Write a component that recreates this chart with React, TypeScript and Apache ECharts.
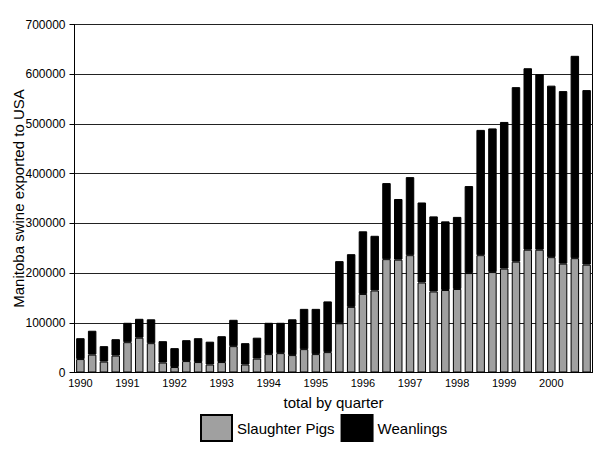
import React, { useEffect, useRef } from "react";
import * as echarts from "echarts";

const years = ["1990", "1991", "1992", "1993", "1994", "1995", "1996", "1997", "1998", "1999", "2000"];
const quarters = ["Q1", "Q2", "Q3", "Q4"];
const categories: string[] = [];
years.forEach((y) => quarters.forEach((q) => categories.push(y + " " + q)));

const slaughterPigs = [
  27000, 36000, 22000, 34000, 61000, 70000, 59000, 20000,
  11000, 23000, 21000, 16000, 21000, 53000, 16000, 28000,
  37000, 39000, 35000, 47000, 37000, 41000, 99000, 132000,
  158000, 165000, 228000, 227000, 236000, 181000, 163000, 166000,
  168000, 200000, 236000, 202000, 209000, 223000, 247000, 247000,
  232000, 219000, 230000, 217000,
];
const weanlings = [
  42000, 48000, 31000, 33000, 39000, 38000, 48000, 43000,
  38000, 42000, 48000, 46000, 52000, 53000, 43000, 42000,
  63000, 61000, 72000, 81000, 91000, 102000, 125000, 106000,
  126000, 110000, 153000, 122000, 157000, 161000, 151000, 138000,
  145000, 175000, 252000, 289000, 295000, 351000, 365000, 353000,
  345000, 347000, 407000, 351000,
];

const FONT = "'Liberation Sans', Arial, Helvetica, sans-serif";

export default function App() {
  const ref = useRef<HTMLDivElement>(null);
  useEffect(() => {
    if (!ref.current) return;
    const chart = echarts.init(ref.current, undefined, { renderer: "svg" });
    chart.setOption({
      animation: false,
      backgroundColor: "#ffffff",
      textStyle: { fontFamily: FONT },
      grid: {
        left: 74.5,
        right: 15.5,
        top: 24.5,
        bottom: 78.5,
        containLabel: false,
        outerBoundsMode: "none",
        show: true,
        borderColor: "#000",
        borderWidth: 1,
      },
      legend: {
        left: 200,
        top: 414,
        padding: 0,
        itemWidth: 31,
        itemHeight: 26,
        itemGap: 6,
        icon: "rect",
        textStyle: { fontFamily: FONT, fontSize: 15, color: "#000" },
        data: ["Slaughter Pigs", "Weanlings"],
      },
      xAxis: {
        type: "category",
        data: categories,
        name: "total by quarter",
        nameLocation: "middle",
        nameGap: 22,
        nameMoveOverlap: false,
        nameTextStyle: { fontFamily: FONT, fontSize: 15, color: "#000" },
        axisLine: { lineStyle: { color: "#000", width: 1 } },
        axisTick: { show: false },
        axisLabel: {
          interval: 3,
          margin: 5,
          fontSize: 11,
          color: "#000",
          fontFamily: FONT,
          formatter: (v: string) => v.split(" ")[0],
        },
      },
      yAxis: {
        type: "value",
        min: 0,
        max: 700000,
        interval: 100000,
        name: "Manitoba swine exported to USA",
        nameLocation: "middle",
        nameGap: 49,
        nameMoveOverlap: false,
        nameTextStyle: { fontFamily: FONT, fontSize: 15, color: "#000" },
        axisLine: { show: true, lineStyle: { color: "#000", width: 1 } },
        axisTick: { show: true, length: 5, lineStyle: { color: "#000" } },
        axisLabel: {
          fontSize: 12,
          color: "#000",
          margin: 9,
          fontFamily: FONT,
          formatter: (v: number) => String(v),
        },
        splitLine: { show: true, lineStyle: { color: "#222", width: 1 } },
      },
      series: [
        {
          name: "Slaughter Pigs",
          type: "bar",
          stack: "total",
          data: slaughterPigs,
          barCategoryGap: "28%",
          itemStyle: { color: "#a0a0a0", borderColor: "#000", borderWidth: 1 },
        },
        {
          name: "Weanlings",
          type: "bar",
          stack: "total",
          data: weanlings,
          barCategoryGap: "28%",
          itemStyle: { color: "#000", borderColor: "#000", borderWidth: 1 },
        },
      ],
    });
    return () => chart.dispose();
  }, []);
  return <div ref={ref} style={{ width: 608, height: 451, position: "absolute", left: 0, top: 0 }} />;
}
